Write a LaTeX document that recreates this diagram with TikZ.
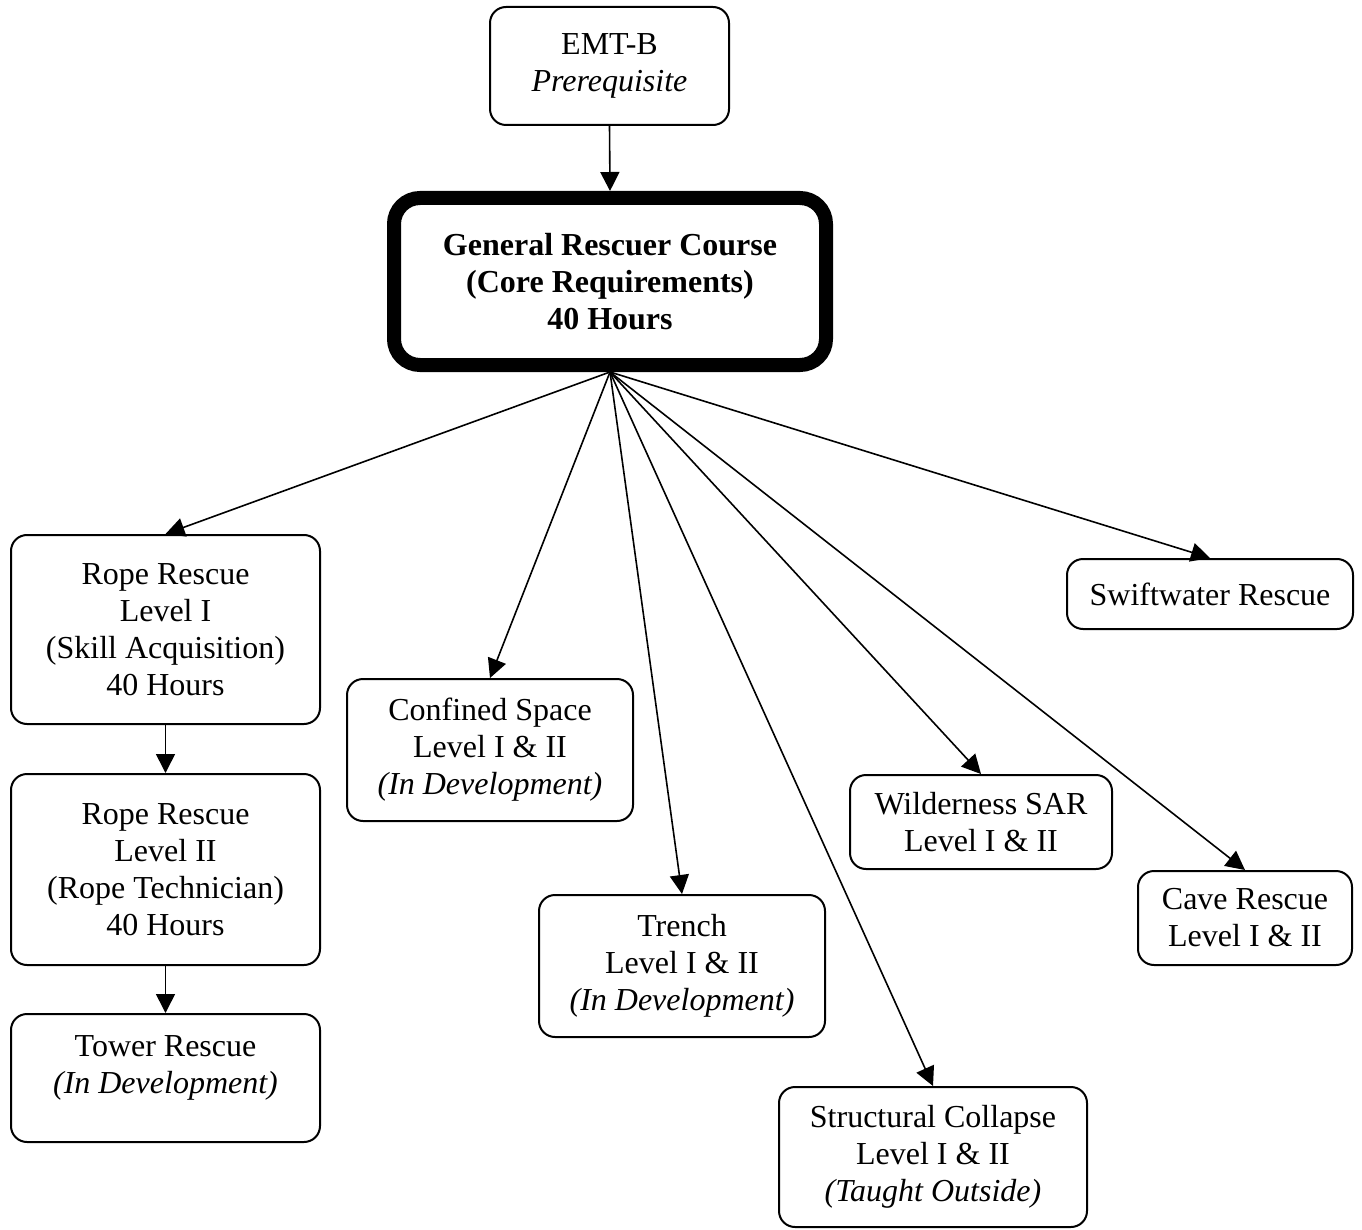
\documentclass[tikz,border=0pt]{standalone}
\usepackage{fontspec}
\setmainfont{Liberation Serif}
\usetikzlibrary{arrows.meta}
\begin{document}
\begin{tikzpicture}[x=1pt,y=-1pt,
  box/.style={draw, line width=2pt, rounded corners=16pt, align=center, inner sep=0pt,
    font=\fontsize{32}{37}\selectfont},
  bigbox/.style={draw, line width=14pt, rounded corners=26pt, align=center, inner sep=0pt,
    font=\fontsize{32}{37}\selectfont\bfseries},
  arr/.style={line width=1.6pt, -{Triangle[length=19pt,width=19pt]}}
]
\useasboundingbox (0,0) rectangle (1362,1230);
\node[box, minimum width=239, minimum height=118] (emt) at (609.5,66) {EMT-B\\\textit{Prerequisite}};
\node[bigbox, minimum width=432, minimum height=167] (gen) at (610,281.5) {General Rescuer Course\\(Core Requirements)\\40 Hours};
\node[box, minimum width=309, minimum height=189] (rope1) at (165.5,629.5) {Rope Rescue\\Level I\\(Skill Acquisition)\\40 Hours};
\node[box, minimum width=309, minimum height=191] (rope2) at (165.5,869.5) {Rope Rescue\\Level II\\(Rope Technician)\\40 Hours};
\node[box, minimum width=309, minimum height=128,
  label={[align=center, font=\fontsize{32}{37}\selectfont, yshift=10pt]center:{Tower Rescue\\\textit{(In Development)}}}] (tower) at (165.5,1078) {};
\node[box, minimum width=286, minimum height=142] (confined) at (490,750) {Confined Space\\Level I \& II\\\textit{(In Development)}};
\node[box, minimum width=286, minimum height=142] (trench) at (682,966) {Trench\\Level I \& II\\\textit{(In Development)}};
\node[box, minimum width=308, minimum height=140] (struct) at (933,1157) {Structural Collapse\\Level I \& II\\\textit{(Taught Outside)}};
\node[box, minimum width=262, minimum height=94] (wild) at (981,822) {Wilderness SAR\\Level I \& II};
\node[box, minimum width=214, minimum height=94] (cave) at (1245,918) {Cave Rescue\\Level I \& II};
\node[box, minimum width=286, minimum height=70] (swift) at (1210,594) {Swiftwater Rescue};

\draw[arr] (emt.south) -- (gen.north);
\draw[arr] (gen.south) -- (rope1.north);
\draw[arr] (gen.south) -- (confined.north);
\draw[arr] (gen.south) -- (trench.north);
\draw[arr] (gen.south) -- (struct.north);
\draw[arr] (gen.south) -- (wild.north);
\draw[arr] (gen.south) -- (cave.north);
\draw[arr] (gen.south) -- (swift.north);
\draw[arr] (rope1.south) -- (rope2.north);
\draw[arr] (rope2.south) -- (tower.north);
\end{tikzpicture}
\end{document}
